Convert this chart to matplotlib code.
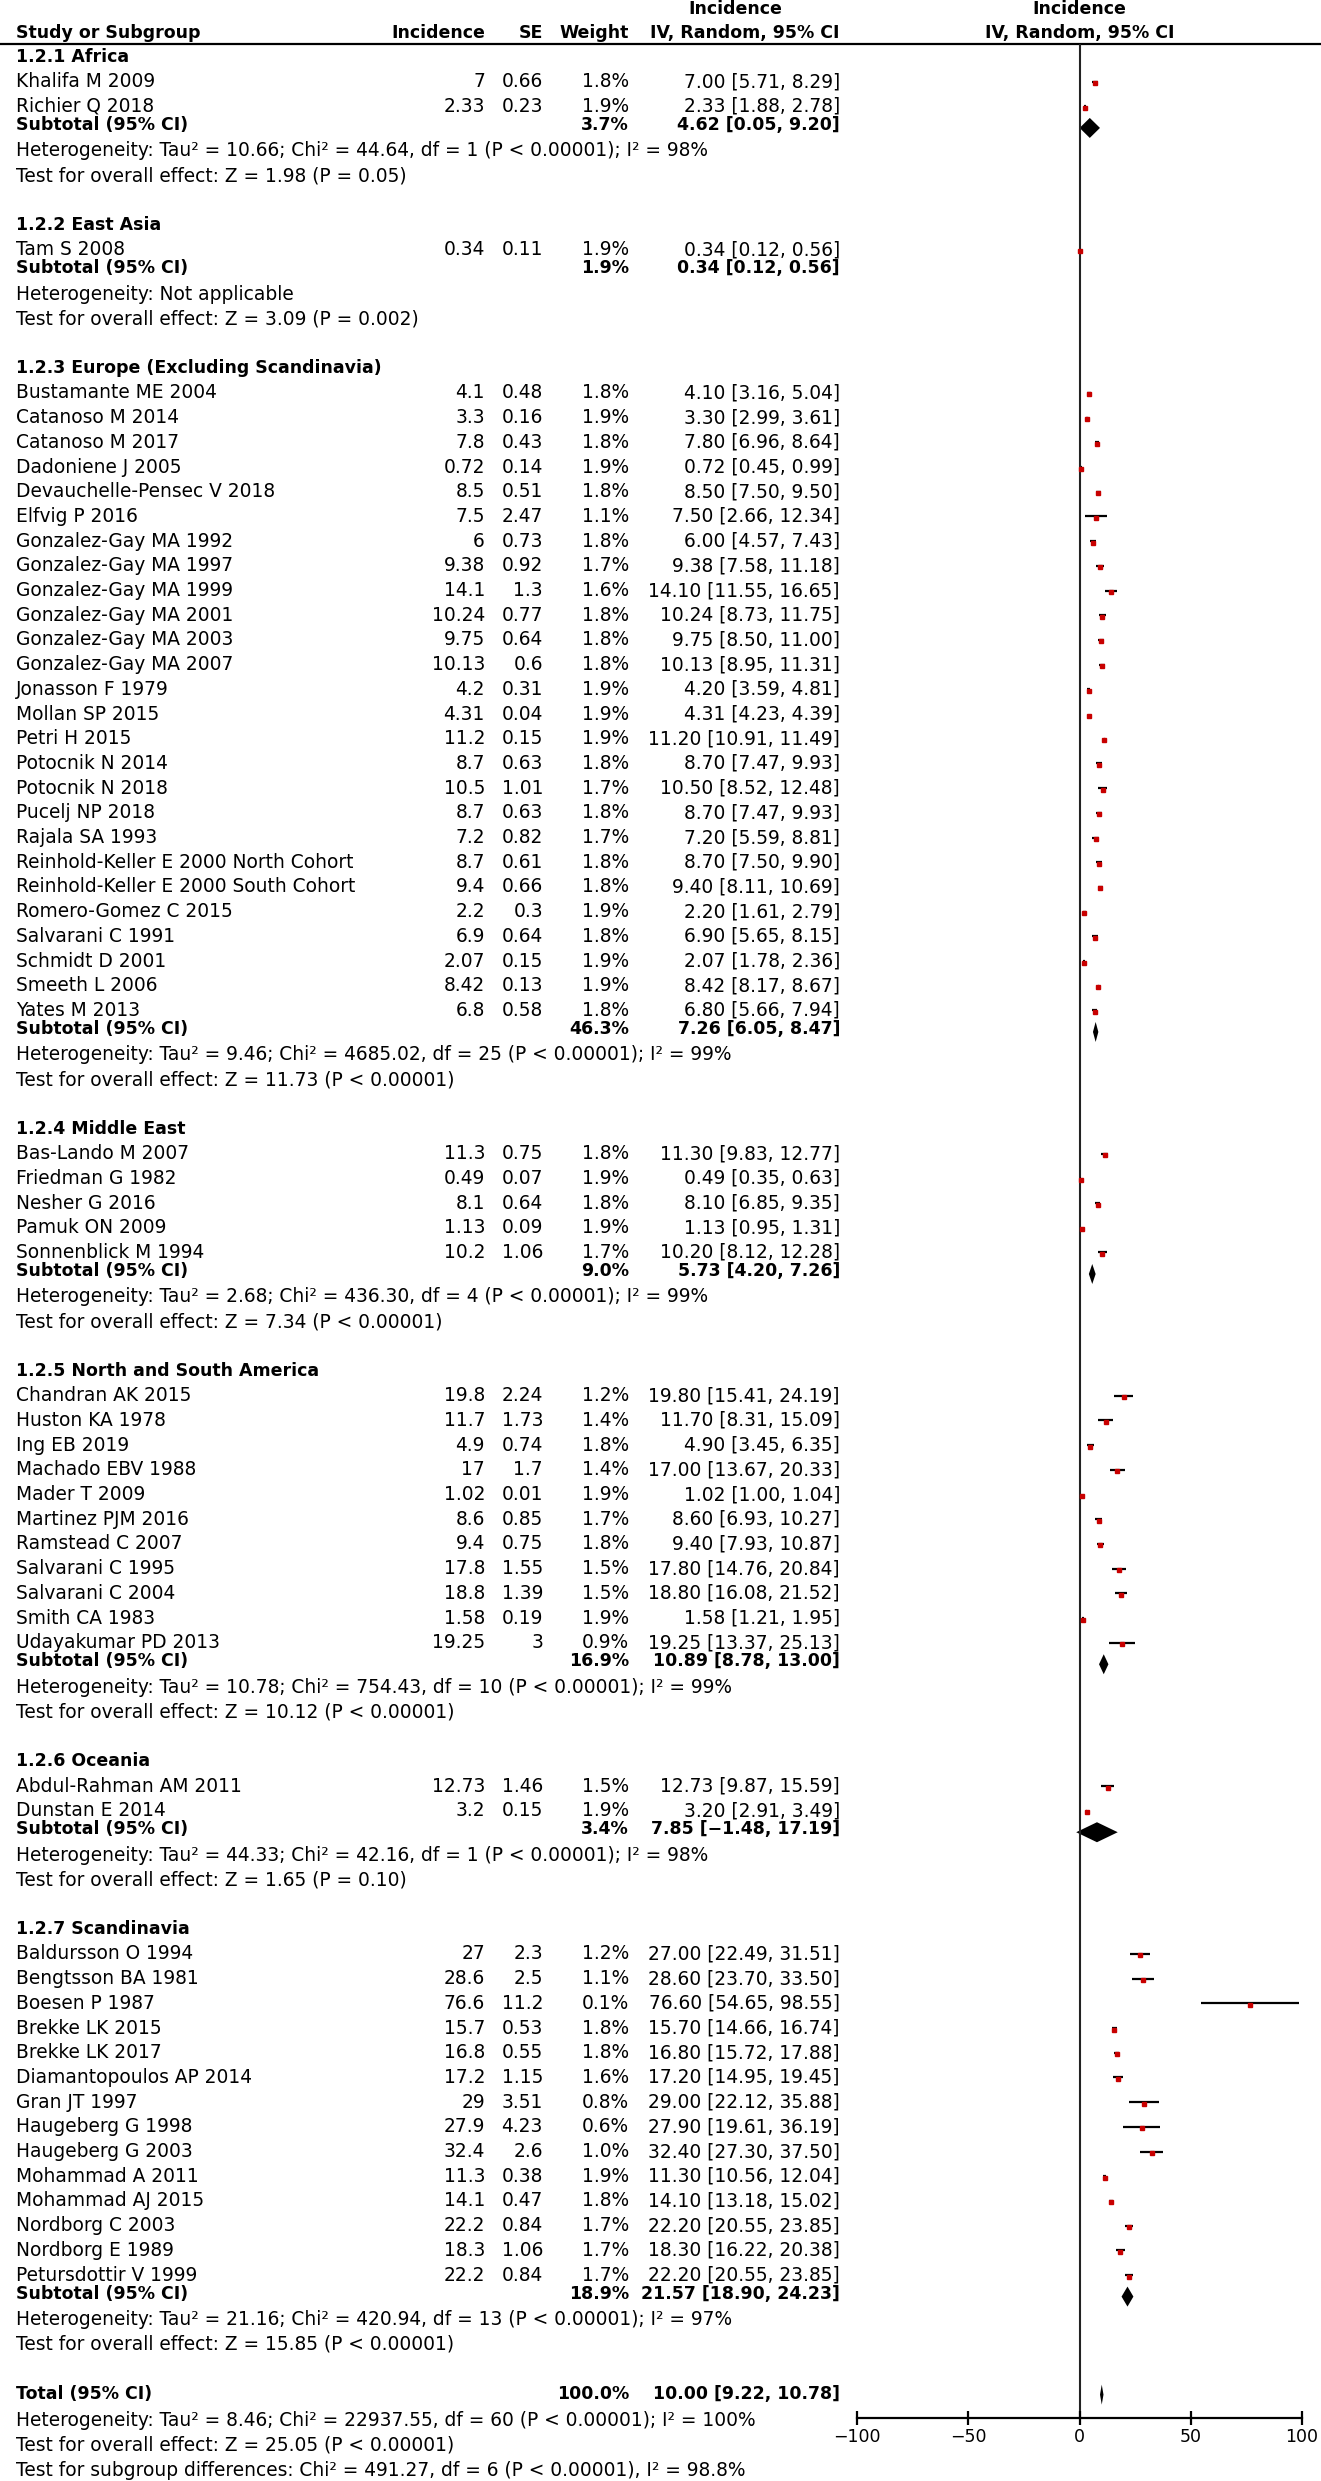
import matplotlib.pyplot as plt

# ---- data ----
groups = ["1.2.1 Africa", "1.2.2 East Asia", "1.2.3 Europe (Excluding Scandinavia)",
          "1.2.4 Middle East", "1.2.5 North and South America", "1.2.6 Oceania",
          "1.2.7 Scandinavia"]

studies = [
    "Khalifa M 2009", "Richier Q 2018",
    "Tam S 2008",
    "Bustamante ME 2004", "Catanoso M 2014", "Catanoso M 2017", "Dadoniene J 2005",
    "Devauchelle-Pensec V 2018", "Elfvig P 2016", "Gonzalez-Gay MA 1992",
    "Gonzalez-Gay MA 1997", "Gonzalez-Gay MA 1999", "Gonzalez-Gay MA 2001",
    "Gonzalez-Gay MA 2003", "Gonzalez-Gay MA 2007", "Jonasson F 1979", "Mollan SP 2015",
    "Petri H 2015", "Potocnik N 2014", "Potocnik N 2018", "Pucelj NP 2018",
    "Rajala SA 1993", "Reinhold-Keller E 2000 North Cohort",
    "Reinhold-Keller E 2000 South Cohort", "Romero-Gomez C 2015", "Salvarani C 1991",
    "Schmidt D 2001", "Smeeth L 2006", "Yates M 2013",
    "Bas-Lando M 2007", "Friedman G 1982", "Nesher G 2016", "Pamuk ON 2009",
    "Sonnenblick M 1994",
    "Chandran AK 2015", "Huston KA 1978", "Ing EB 2019", "Machado EBV 1988", "Mader T 2009",
    "Martinez PJM 2016", "Ramstead C 2007", "Salvarani C 1995", "Salvarani C 2004",
    "Smith CA 1983", "Udayakumar PD 2013",
    "Abdul-Rahman AM 2011", "Dunstan E 2014",
    "Baldursson O 1994", "Bengtsson BA 1981", "Boesen P 1987", "Brekke LK 2015",
    "Brekke LK 2017", "Diamantopoulos AP 2014", "Gran JT 1997", "Haugeberg G 1998",
    "Haugeberg G 2003", "Mohammad A 2011", "Mohammad AJ 2015", "Nordborg C 2003",
    "Nordborg E 1989", "Petursdottir V 1999",
]
group_size = [2, 1, 26, 5, 11, 2, 14]

incidence = [7, 2.33,
             0.34,
             4.1, 3.3, 7.8, 0.72, 8.5, 7.5, 6, 9.38, 14.1, 10.24, 9.75, 10.13, 4.2, 4.31,
             11.2, 8.7, 10.5, 8.7, 7.2, 8.7, 9.4, 2.2, 6.9, 2.07, 8.42, 6.8,
             11.3, 0.49, 8.1, 1.13, 10.2,
             19.8, 11.7, 4.9, 17, 1.02, 8.6, 9.4, 17.8, 18.8, 1.58, 19.25,
             12.73, 3.2,
             27, 28.6, 76.6, 15.7, 16.8, 17.2, 29, 27.9, 32.4, 11.3, 14.1, 22.2, 18.3, 22.2]
se = [0.66, 0.23,
      0.11,
      0.48, 0.16, 0.43, 0.14, 0.51, 2.47, 0.73, 0.92, 1.3, 0.77, 0.64, 0.6, 0.31, 0.04,
      0.15, 0.63, 1.01, 0.63, 0.82, 0.61, 0.66, 0.3, 0.64, 0.15, 0.13, 0.58,
      0.75, 0.07, 0.64, 0.09, 1.06,
      2.24, 1.73, 0.74, 1.7, 0.01, 0.85, 0.75, 1.55, 1.39, 0.19, 3,
      1.46, 0.15,
      2.3, 2.5, 11.2, 0.53, 0.55, 1.15, 3.51, 4.23, 2.6, 0.38, 0.47, 0.84, 1.06, 0.84]
weight = [1.8, 1.9,
          1.9,
          1.8, 1.9, 1.8, 1.9, 1.8, 1.1, 1.8, 1.7, 1.6, 1.8, 1.8, 1.8, 1.9, 1.9,
          1.9, 1.8, 1.7, 1.8, 1.7, 1.8, 1.8, 1.9, 1.8, 1.9, 1.9, 1.8,
          1.8, 1.9, 1.8, 1.9, 1.7,
          1.2, 1.4, 1.8, 1.4, 1.9, 1.7, 1.8, 1.5, 1.5, 1.9, 0.9,
          1.5, 1.9,
          1.2, 1.1, 0.1, 1.8, 1.8, 1.6, 0.8, 0.6, 1.0, 1.9, 1.8, 1.7, 1.7, 1.7]
ci_lo = [5.71, 1.88,
         0.12,
         3.16, 2.99, 6.96, 0.45, 7.50, 2.66, 4.57, 7.58, 11.55, 8.73, 8.50, 8.95, 3.59, 4.23,
         10.91, 7.47, 8.52, 7.47, 5.59, 7.50, 8.11, 1.61, 5.65, 1.78, 8.17, 5.66,
         9.83, 0.35, 6.85, 0.95, 8.12,
         15.41, 8.31, 3.45, 13.67, 1.00, 6.93, 7.93, 14.76, 16.08, 1.21, 13.37,
         9.87, 2.91,
         22.49, 23.70, 54.65, 14.66, 15.72, 14.95, 22.12, 19.61, 27.30, 10.56, 13.18, 20.55,
         16.22, 20.55]
ci_hi = [8.29, 2.78,
         0.56,
         5.04, 3.61, 8.64, 0.99, 9.50, 12.34, 7.43, 11.18, 16.65, 11.75, 11.00, 11.31, 4.81,
         4.39, 11.49, 9.93, 12.48, 9.93, 8.81, 9.90, 10.69, 2.79, 8.15, 2.36, 8.67, 7.94,
         12.77, 0.63, 9.35, 1.31, 12.28,
         24.19, 15.09, 6.35, 20.33, 1.04, 10.27, 10.87, 20.84, 21.52, 1.95, 25.13,
         15.59, 3.49,
         31.51, 33.50, 98.55, 16.74, 17.88, 19.45, 35.88, 36.19, 37.50, 12.04, 15.02, 23.85,
         20.38, 23.85]

sub_weight = [3.7, 1.9, 46.3, 9.0, 16.9, 3.4, 18.9]
sub_est = [4.62, 0.34, 7.26, 5.73, 10.89, 7.85, 21.57]
sub_lo = [0.05, 0.12, 6.05, 4.20, 8.78, -1.48, 18.90]
sub_hi = [9.20, 0.56, 8.47, 7.26, 13.00, 17.19, 24.23]
sub_het = [
    "Heterogeneity: Tau² = 10.66; Chi² = 44.64, df = 1 (P < 0.00001); I² = 98%",
    "Heterogeneity: Not applicable",
    "Heterogeneity: Tau² = 9.46; Chi² = 4685.02, df = 25 (P < 0.00001); I² = 99%",
    "Heterogeneity: Tau² = 2.68; Chi² = 436.30, df = 4 (P < 0.00001); I² = 99%",
    "Heterogeneity: Tau² = 10.78; Chi² = 754.43, df = 10 (P < 0.00001); I² = 99%",
    "Heterogeneity: Tau² = 44.33; Chi² = 42.16, df = 1 (P < 0.00001); I² = 98%",
    "Heterogeneity: Tau² = 21.16; Chi² = 420.94, df = 13 (P < 0.00001); I² = 97%",
]
sub_test = [
    "Test for overall effect: Z = 1.98 (P = 0.05)",
    "Test for overall effect: Z = 3.09 (P = 0.002)",
    "Test for overall effect: Z = 11.73 (P < 0.00001)",
    "Test for overall effect: Z = 7.34 (P < 0.00001)",
    "Test for overall effect: Z = 10.12 (P < 0.00001)",
    "Test for overall effect: Z = 1.65 (P = 0.10)",
    "Test for overall effect: Z = 15.85 (P < 0.00001)",
]

total_weight = 100.0
total_est, total_lo, total_hi = 10.00, 9.22, 10.78
total_notes = [
    "Heterogeneity: Tau² = 8.46; Chi² = 22937.55, df = 60 (P < 0.00001); I² = 100%",
    "Test for overall effect: Z = 25.05 (P < 0.00001)",
    "Test for subgroup differences: Chi² = 491.27, df = 6 (P < 0.00001), I² = 98.8%",
]
ticks = [-100, -50, 0, 50, 100]

# ---- layout (pixels) ----
W, H = 1321, 2481
FS = 13.4      # regular text
FSB = 12.5     # bold text
RED = "#c80000"
U = 24.7
x_name, x_inc, x_se, x_w, x_ci = 16, 485, 543, 629, 840
fx_left, fx_right = 857, 1302
head_line_y = 44
axis_y = 2418


def fmt(v):
    return f"{v:.2f}".replace("-", "\u2212")


def ci_text(e, lo, hi):
    return f"{fmt(e)} [{fmt(lo)}, {fmt(hi)}]"


# row positions
head_y, sub_y, het_y, test_y, study_y = [], [], [], [], []
y = 57.0
for g in range(len(groups)):
    head_y.append(y)
    y += U
    for _ in range(group_size[g]):
        study_y.append(y)
        y += U
    y -= 0.25 * U
    sub_y.append(y)
    y += 1.05 * U
    het_y.append(y)
    y += U
    test_y.append(y)
    y += 2 * U
total_y = y
note_y = [total_y + 1.1 * U, total_y + 2.1 * U, total_y + 3.1 * U]

fig = plt.figure(figsize=(W / 100, H / 100), dpi=100)
ax = fig.add_axes([0, 0, 1, 1])
ax.set_xlim(0, W)
ax.set_ylim(H, 0)
ax.axis("off")

fx = fig.add_axes([fx_left / W, 0, (fx_right - fx_left) / W, 1])
fx.set_xlim(-100, 100)
fx.set_ylim(H, 0)
fx.axis("off")

# header
bold = dict(fontsize=FSB, fontweight="bold", va="center")
ax.text(x_name, 33, "Study or Subgroup", ha="left", **bold)
ax.text(x_inc, 33, "Incidence", ha="right", **bold)
ax.text(x_se, 33, "SE", ha="right", **bold)
ax.text(x_w, 33, "Weight", ha="right", **bold)
ax.text(735, 9, "Incidence", ha="center", **bold)
ax.text(x_ci, 33, "IV, Random, 95% CI", ha="right", **bold)
ax.text((fx_left + fx_right) / 2, 9, "Incidence", ha="center", **bold)
ax.text((fx_left + fx_right) / 2, 33, "IV, Random, 95% CI", ha="center", **bold)
ax.hlines(head_line_y, 0, W, color="black", lw=1.6)

norm = dict(fontsize=FS, va="center")
for i, name in enumerate(studies):
    yy = study_y[i]
    ax.text(x_name, yy, name, ha="left", **norm)
    ax.text(x_inc, yy, f"{incidence[i]:g}", ha="right", **norm)
    ax.text(x_se, yy, f"{se[i]:g}", ha="right", **norm)
    ax.text(x_w, yy, f"{weight[i]:.1f}%", ha="right", **norm)
    ax.text(x_ci, yy, ci_text(incidence[i], ci_lo[i], ci_hi[i]), ha="right", **norm)

for g, name in enumerate(groups):
    ax.text(x_name, head_y[g], name, ha="left", **bold)
    ax.text(x_name, sub_y[g], "Subtotal (95% CI)", ha="left", **bold)
    ax.text(x_w, sub_y[g], f"{sub_weight[g]:.1f}%", ha="right", **bold)
    ax.text(x_ci, sub_y[g], ci_text(sub_est[g], sub_lo[g], sub_hi[g]), ha="right", **bold)
    ax.text(x_name, het_y[g], sub_het[g], ha="left", **norm)
    ax.text(x_name, test_y[g], sub_test[g], ha="left", **norm)

ax.text(x_name, total_y, "Total (95% CI)", ha="left", **bold)
ax.text(x_w, total_y, f"{total_weight:.1f}%", ha="right", **bold)
ax.text(x_ci, total_y, ci_text(total_est, total_lo, total_hi), ha="right", **bold)
for t, yy in zip(total_notes, note_y):
    ax.text(x_name, yy, t, ha="left", **norm)

# forest marks
fx.vlines(0, head_line_y, axis_y, color="#222222", lw=1.5)
fx.hlines(study_y, ci_lo, ci_hi, color="black", lw=1.6)
for i in range(len(studies)):
    fx.plot(incidence[i], study_y[i] + 1.5, "s", color=RED, mec=RED,
            ms=2.6 + 0.4 * weight[i], clip_on=False)

for g in range(len(groups)):
    yy = sub_y[g] + 3
    fx.fill([sub_lo[g], sub_est[g], sub_hi[g], sub_est[g]],
            [yy, yy - 10, yy, yy + 10], color="black", lw=0)
yy = total_y + 1
fx.fill([total_lo, total_est, total_hi, total_est],
        [yy, yy - 10, yy, yy + 10], color="black", lw=0)

# x axis
xa = fig.add_axes([fx_left / W, 1 - axis_y / H, (fx_right - fx_left) / W, 0.001])
xa.set_xlim(-100, 100)
xa.set_xticks(ticks)
xa.set_yticks([])
for s in ["top", "left", "right"]:
    xa.spines[s].set_visible(False)
xa.spines["bottom"].set_linewidth(1.6)
xa.patch.set_alpha(0)
xa.tick_params(axis="x", direction="inout", length=10, width=1.6, labelsize=FSB, pad=2)

fig.savefig("out.png", dpi=100)
